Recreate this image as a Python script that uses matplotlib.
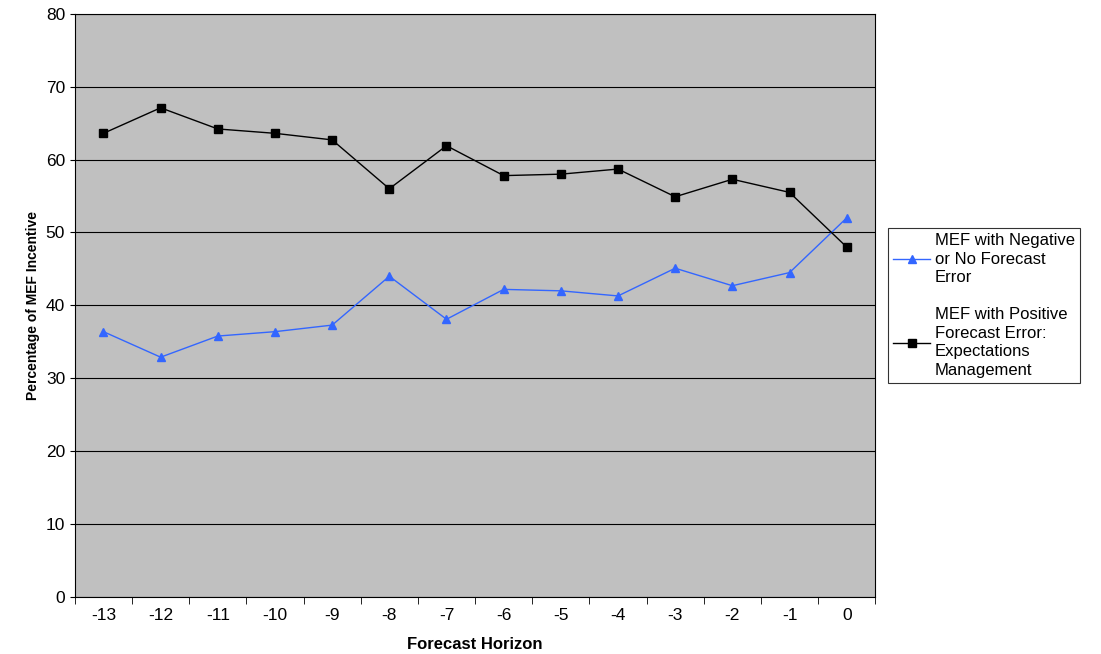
import numpy as np
import matplotlib.pyplot as plt

plt.rcParams['font.family'] = ['Liberation Sans', 'DejaVu Sans']

horizon = ['-13', '-12', '-11', '-10', '-9', '-8', '-7', '-6', '-5', '-4', '-3', '-2', '-1', '0']
negative = [36.4, 32.9, 35.8, 36.4, 37.3, 44.0, 38.1, 42.2, 42.0, 41.3, 45.1, 42.7, 44.5, 52.0]
positive = [63.6, 67.1, 64.2, 63.6, 62.7, 56.0, 61.9, 57.8, 58.0, 58.7, 54.9, 57.3, 55.5, 48.0]

fig = plt.figure(figsize=(11.01, 6.54), dpi=100)
ax = fig.add_axes([0.068, 0.087, 0.727, 0.892])
ax.set_facecolor('#c0c0c0')
pos = np.arange(len(horizon))

ax.plot(pos, negative, color='#3366ff', marker='^', markersize=6, linewidth=1,
        label='MEF with Negative\nor No Forecast\nError')
ax.plot(pos, positive, color='black', marker='s', markersize=6, linewidth=1,
        label='MEF with Positive\nForecast Error:\nExpectations\nManagement')

ax.set_xlim(-0.5, len(horizon) - 0.5)
ax.set_ylim(0, 80)
ax.set_yticks(range(0, 81, 10))
ax.yaxis.grid(True, color='black', linewidth=0.8)
ax.set_axisbelow(True)
ax.set_xticks(pos)
ax.set_xticklabels(horizon)
ax.set_xticks(np.arange(-0.5, len(horizon), 1), minor=True)
ax.tick_params(axis='x', which='major', length=0, labelsize=12.5, pad=8)
ax.tick_params(axis='x', which='minor', length=5, direction='out')
ax.tick_params(axis='y', labelsize=12.5)
for s in ax.spines.values():
    s.set_color('black')

ax.set_xlabel('Forecast Horizon', fontsize=12, fontweight='bold', labelpad=10)
ax.set_ylabel('Percentage of MEF Incentive', fontsize=10, fontweight='bold')

leg = ax.legend(loc='center left', bbox_to_anchor=(1.01, 0.5), fontsize=12,
                frameon=True, fancybox=False, edgecolor='black',
                handlelength=2.2, handletextpad=0.3, labelspacing=1.3,
                borderpad=0.3, borderaxespad=0.3)
leg.get_frame().set_linewidth(0.8)
for t in leg.get_texts():
    t.set_linespacing(1.3)

fig.savefig('out.png')
